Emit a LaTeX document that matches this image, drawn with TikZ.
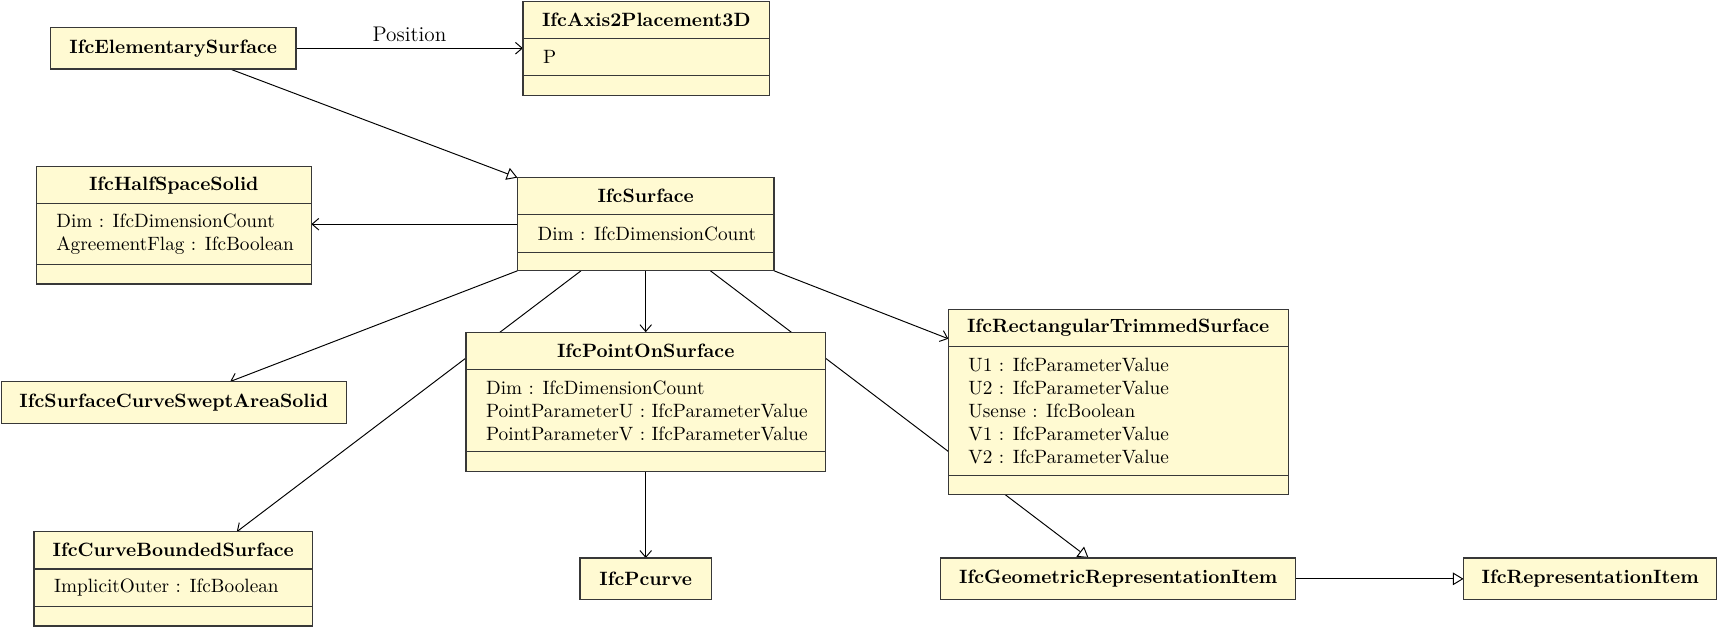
\documentclass[tikz,border=0pt]{standalone}
\usetikzlibrary{arrows.meta,calc}
\pgfdeclarelayer{bg}
\pgfsetlayers{bg,main}
\definecolor{clsfill}{RGB}{255,250,210}
\def\un{0.569pt}
\tikzset{
  clsbox/.style={draw=black!78, line width=0.6pt, fill=clsfill, inner sep=0pt, outer sep=0pt, font=\bfseries},
  clsline/.style={draw=black!78, line width=0.6pt},
  clstitle/.style={inner sep=0pt, font=\bfseries},
  clsattr/.style={inner sep=0pt, anchor=west, align=left},
  assoc/.style={line width=0.5pt, -{Straight Barb[length=3.5pt,width=6pt]}},
  inherit/.style={line width=0.5pt, -{Triangle[open,length=5.5pt,width=6.5pt]}}
}
% id, x, y, width, title, attr height, attr text, empty height
\newcommand\umlcls[8]{%
  \node[clsbox, minimum width={#4*\un}, minimum height={(34+#6+#8)*\un}, anchor=north west] (#1) at (#2,#3) {};
  \node[clstitle] (#1-t) at (#2+#4/2, #3+17) {#5};
  \draw[clsline] (#2,#3+34) -- (#2+#4,#3+34);
  \node[clsattr] (#1-a) at (#2+18, #3+34+#6/2) {#7};
  \draw[clsline] (#2,#3+34+#6) -- (#2+#4,#3+34+#6);
}
% id, x, y, width, title
\newcommand\umlsimple[5]{%
  \node[clsbox, minimum width={#4*\un}, minimum height={38*\un}, anchor=north west] (#1) at (#2,#3) {#5};
}
\begin{document}
\begin{tikzpicture}[x=\un, y=-\un]
\useasboundingbox (0,0) rectangle (1568,572);
\umlsimple{elem}{46}{25}{224}{IfcElementarySurface}
\umlcls{axis}{477}{1}{225}{IfcAxis2Placement3D}{34}{P}{18}
\umlcls{hs}{33}{152}{251}{IfcHalfSpaceSolid}{55}{Dim : IfcDimensionCount\\AgreementFlag : IfcBoolean}{18}
\umlcls{surf}{472}{162}{234}{IfcSurface}{34}{Dim : IfcDimensionCount}{17}
\umlsimple{sweep}{1}{348}{315}{IfcSurfaceCurveSweptAreaSolid}
\umlcls{pos}{425}{303}{328}{IfcPointOnSurface}{75}{Dim : IfcDimensionCount\\PointParameterU : IfcParameterValue\\PointParameterV : IfcParameterValue}{18}
\umlcls{rect}{865}{282}{310}{IfcRectangularTrimmedSurface}{118}{U1 : IfcParameterValue\\U2 : IfcParameterValue\\Usense : IfcBoolean\\V1 : IfcParameterValue\\V2 : IfcParameterValue}{17}
\umlcls{cbs}{31}{485}{254}{IfcCurveBoundedSurface}{34}{ImplicitOuter : IfcBoolean}{18}
\umlsimple{pcurve}{529}{509}{120}{IfcPcurve}
\umlsimple{geo}{858}{509}{324}{IfcGeometricRepresentationItem}
\umlsimple{rep}{1335}{509}{231}{IfcRepresentationItem}
\begin{pgfonlayer}{bg}
\draw[assoc] (elem.east) -- (elem.east -| axis.west) node[midway, above, font=\fontsize{11}{13}\selectfont] (poslbl) {Position};
\draw[inherit] ($(elem.south west)+(164,0)$) -- (surf.north west);
\draw[assoc] (surf.west) -- (surf.west -| hs.east);
\draw[assoc] (surf.south west) -- ($(sweep.north west)+(209,0)$);
\draw[assoc] ($(surf.south west)+(58,0)$) -- ($(cbs.north west)+(185,0)$);
\draw[assoc] (surf.south) -- (pos.north);
\draw[inherit] ($(surf.south west)+(176,0)$) -- ($(geo.north west)+(135,0)$);
\draw[assoc] (surf.south east) -- ($(rect.north west)+(0,27)$);
\draw[assoc] (pos.south) -- (pcurve.north);
\draw[inherit] (geo.east) -- (rep.west);
\end{pgfonlayer}
\end{tikzpicture}
\end{document}
